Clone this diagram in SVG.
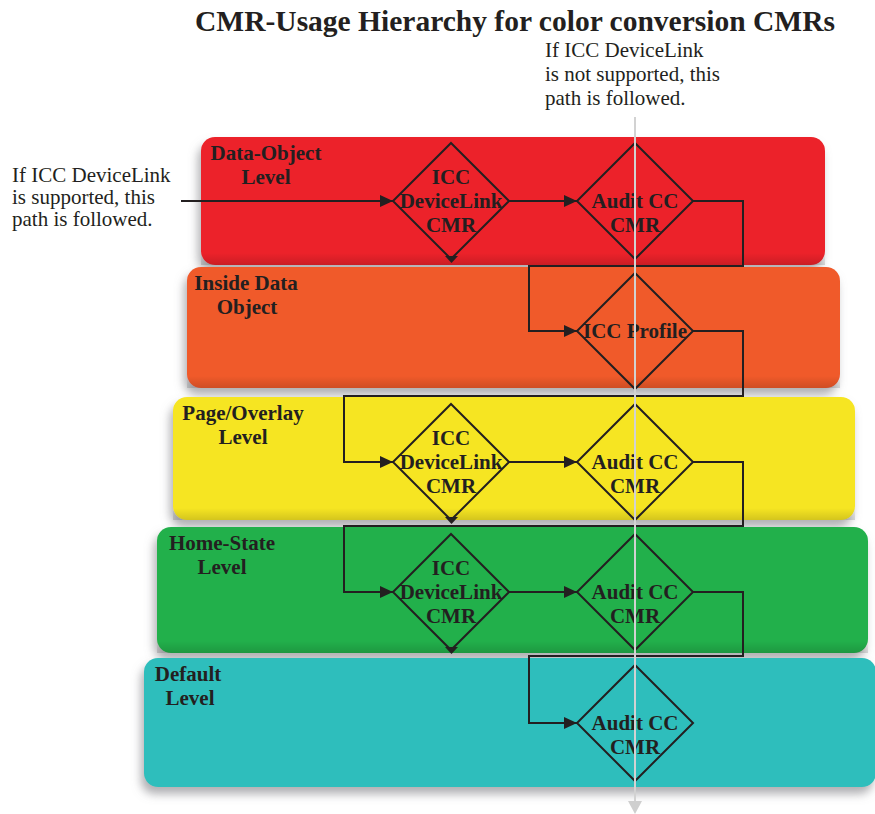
<svg xmlns="http://www.w3.org/2000/svg" width="875" height="814" viewBox="0 0 875 814">
<style>
.band{filter:url(#sh)}
.lbl{font-family:"Liberation Serif","Times New Roman",serif;font-weight:bold;font-size:21px;fill:#231F20;text-anchor:middle}
.dt{font-family:"Liberation Serif","Times New Roman",serif;font-weight:bold;font-size:21px;fill:#231F20;text-anchor:middle}
.note{font-family:"Liberation Serif","Times New Roman",serif;font-size:21px;fill:#231F20}
.dia{fill:none;stroke:#231F20;stroke-width:2}
.con{fill:none;stroke:#231F20;stroke-width:2}
.arr{marker-end:url(#ah)}
</style>
<defs>
<filter id="sh" x="-5%" y="-10%" width="110%" height="130%">
<feDropShadow dx="-3" dy="7" stdDeviation="5" flood-color="#7a7a80" flood-opacity="0.6"/>
</filter>
<linearGradient id="fade" x1="0" y1="0" x2="0" y2="1">
<stop offset="0" stop-color="#000" stop-opacity="0"/>
<stop offset="1" stop-color="#000" stop-opacity="0.14"/>
</linearGradient>
<marker id="ah" markerUnits="userSpaceOnUse" markerWidth="14" markerHeight="12" refX="13" refY="6" orient="auto">
<path d="M0,0 L13,6 L0,12 z" fill="#231F20"/>
</marker>
</defs>
<rect width="875" height="814" fill="#fff"/>
<text x="515" y="31" style="font-family:'Liberation Serif','Times New Roman',serif;font-weight:bold;font-size:29.5px;fill:#231F20" text-anchor="middle">CMR-Usage Hierarchy for color conversion CMRs</text>
<g id="note-right" class="note">
<text x="545" y="57">If ICC DeviceLink</text>
<text x="545" y="81">is not supported, this</text>
<text x="545" y="105">path is followed.</text>
</g>
<g id="note-left" class="note">
<text x="12" y="182">If ICC DeviceLink</text>
<text x="12" y="204">is supported, this</text>
<text x="12" y="226">path is followed.</text>
</g>
<g id="band-data-object">
<rect class="band" x="201" y="137" width="624" height="128" rx="14" fill="#EC2129"/>
<rect x="201" y="253" width="624" height="12" fill="url(#fade)"/>
<text class="lbl" x="266" y="160">Data-Object</text>
<text class="lbl" x="266" y="184">Level</text>
</g>
<g id="band-inside-data-object">
<rect class="band" x="187" y="267" width="653" height="121" rx="14" fill="#F05A2A"/>
<rect x="187" y="376" width="653" height="12" fill="url(#fade)"/>
<text class="lbl" x="246" y="290">Inside Data</text>
<text class="lbl" x="247" y="314">Object</text>
</g>
<g id="band-page-overlay">
<rect class="band" x="173" y="397" width="682" height="123" rx="14" fill="#F6E521"/>
<rect x="173" y="508" width="682" height="12" fill="url(#fade)"/>
<text class="lbl" x="243" y="420">Page/Overlay</text>
<text class="lbl" x="243" y="444">Level</text>
</g>
<g id="band-home-state">
<rect class="band" x="157" y="527" width="711" height="126" rx="14" fill="#21B04C"/>
<rect x="157" y="641" width="711" height="12" fill="url(#fade)"/>
<text class="lbl" x="222" y="550">Home-State</text>
<text class="lbl" x="222" y="574">Level</text>
</g>
<g id="band-default">
<rect class="band" x="144" y="658" width="732" height="129" rx="14" fill="#2FBEBC"/>
<text class="lbl" x="188" y="681">Default</text>
<text class="lbl" x="190" y="705">Level</text>
</g>
<g id="n1-devicelink">
<path class="dia" d="M451,143 L509,201 L451,259 L393,201 Z"/>
<path d="M445,256 L458,256 L451.5,263 Z" fill="#231F20"/>
<text class="dt" x="451" y="184">ICC</text>
<text class="dt" x="451" y="208">DeviceLink</text>
<text class="dt" x="451" y="232">CMR</text>
</g>
<g id="n1-audit">
<path class="dia" d="M635,143 L693,201 L635,259 L577,201 Z"/>
<text class="dt" x="635" y="208">Audit CC</text>
<text class="dt" x="635" y="232">CMR</text>
</g>
<g id="n2-profile">
<path class="dia" d="M635,273 L693,331 L635,389 L577,331 Z"/>
<text class="dt" x="635" y="338">ICC Profile</text>
</g>
<g id="n3-devicelink">
<path class="dia" d="M451,404 L509,462 L451,520 L393,462 Z"/>
<path d="M445,517 L458,517 L451.5,524 Z" fill="#231F20"/>
<text class="dt" x="451" y="445">ICC</text>
<text class="dt" x="451" y="469">DeviceLink</text>
<text class="dt" x="451" y="493">CMR</text>
</g>
<g id="n3-audit">
<path class="dia" d="M635,404 L693,462 L635,520 L577,462 Z"/>
<text class="dt" x="635" y="469">Audit CC</text>
<text class="dt" x="635" y="493">CMR</text>
</g>
<g id="n4-devicelink">
<path class="dia" d="M451,534 L509,592 L451,650 L393,592 Z"/>
<path d="M445,647 L458,647 L451.5,654 Z" fill="#231F20"/>
<text class="dt" x="451" y="575">ICC</text>
<text class="dt" x="451" y="599">DeviceLink</text>
<text class="dt" x="451" y="623">CMR</text>
</g>
<g id="n4-audit">
<path class="dia" d="M635,534 L693,592 L635,650 L577,592 Z"/>
<text class="dt" x="635" y="599">Audit CC</text>
<text class="dt" x="635" y="623">CMR</text>
</g>
<g id="n5-audit">
<path class="dia" d="M635,665 L693,723 L635,781 L577,723 Z"/>
<text class="dt" x="635" y="730">Audit CC</text>
<text class="dt" x="635" y="754">CMR</text>
</g>
<g id="connectors">
<path class="con arr" d="M181,201 H393"/>
<path class="con arr" d="M509,201 H577"/>
<path class="con arr" d="M693,201 H743 V266 H529 V331 H577"/>
<path class="con arr" d="M693,331 H743 V396 H344 V462 H393"/>
<path class="con arr" d="M509,462 H577"/>
<path class="con arr" d="M693,462 H743 V526 H344 V592 H393"/>
<path class="con arr" d="M509,592 H577"/>
<path class="con arr" d="M693,592 H743 V656 H529 V723 H577"/>
<path d="M635,117 V802" fill="none" stroke="#D2D2D2" stroke-width="2"/>
<path d="M628,801 L642,801 L635,814 Z" fill="#CFCFCF"/>
</g>
</svg>
